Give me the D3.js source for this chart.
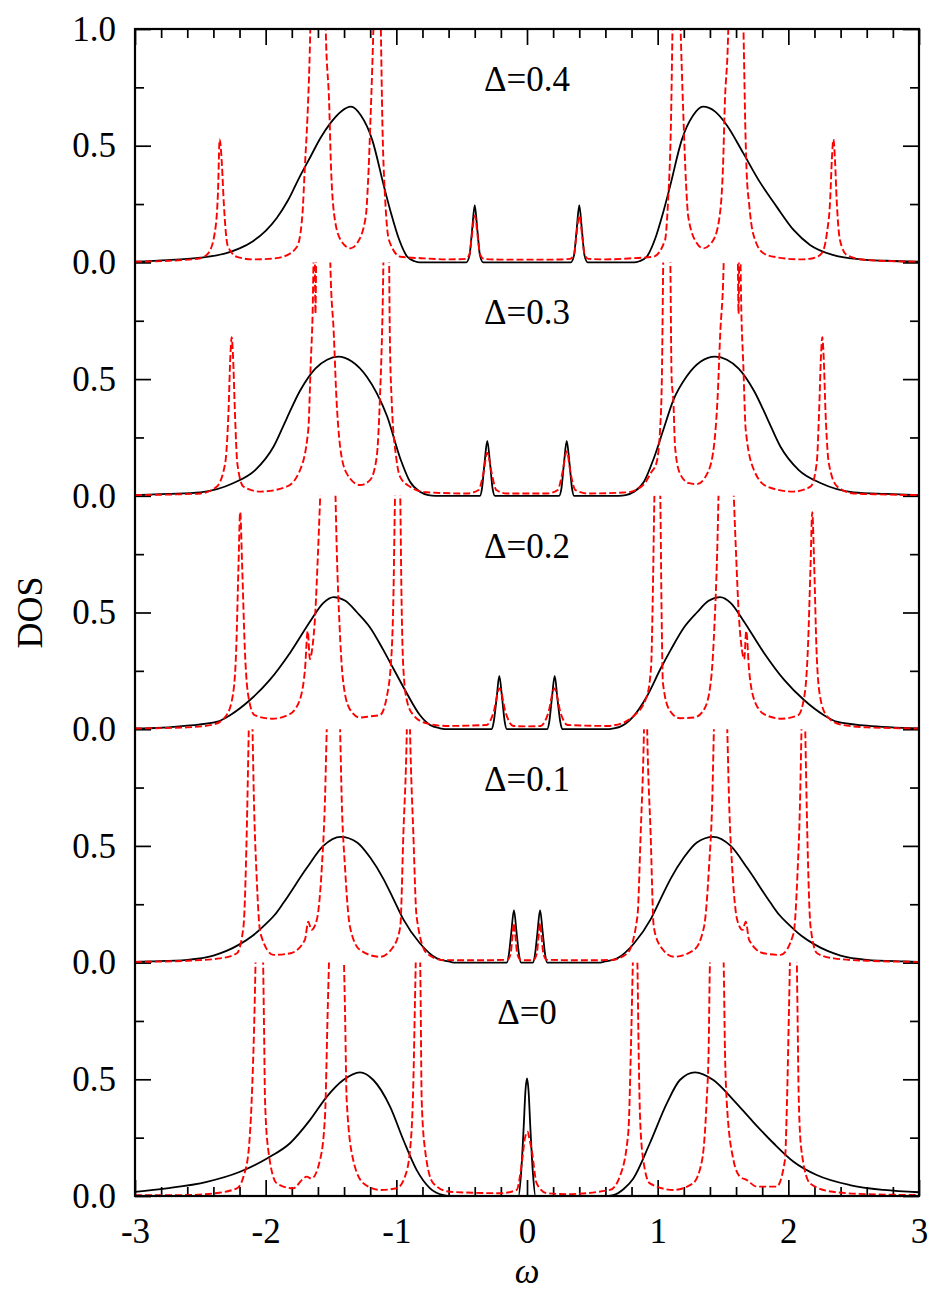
<!DOCTYPE html>
<html><head><meta charset="utf-8">
<script src="https://cdn.jsdelivr.net/npm/d3@7"></script>
<style>
body{margin:0;background:#fff}
svg{display:block}
svg text{font-family:"Liberation Serif",serif}
</style></head>
<body><svg id="c" width="937" height="1293" font-family="Liberation Serif"></svg>
<script>
// ---------------- data ----------------
const omegaTicks = [-3, -2, -1, 0, 1, 2, 3];
const deltaLabels = ["\u0394=0.4", "\u0394=0.3", "\u0394=0.2", "\u0394=0.1", "\u0394=0"];
const dosMajor = [0, 0.5];
const dosMinor = [0.25, 0.75];

// Δ=0.4
const blackD04 = [[-3.0,0.003],[-2.75,0.01],[-2.5,0.02],[-2.3,0.04],[-2.2,0.06],[-2.1,0.09],[-2.0,0.135],[-1.915,0.19],[-1.83,0.265],[-1.737,0.37],[-1.655,0.455],[-1.584,0.53],[-1.5,0.6],[-1.42,0.648],[-1.347,0.667],[-1.272,0.63],[-1.184,0.524],[-1.094,0.324],[-1.04,0.21],[-0.98,0.1],[-0.916,0.024],[-0.86,0.005],[-0.82,0],[-0.465,0],[-0.44,0.03],[-0.42,0.14],[-0.4,0.245],[-0.38,0.14],[-0.36,0.03],[-0.335,0],[0.335,0],[0.36,0.03],[0.38,0.14],[0.4,0.245],[0.42,0.14],[0.44,0.03],[0.465,0],[0.82,0],[0.86,0.005],[0.916,0.024],[0.98,0.1],[1.04,0.21],[1.094,0.324],[1.184,0.524],[1.272,0.63],[1.347,0.667],[1.44,0.646],[1.528,0.589],[1.655,0.468],[1.78,0.346],[1.91,0.239],[2.04,0.139],[2.166,0.075],[2.34,0.032],[2.55,0.013],[2.75,0.007],[3.0,0.003]];
const redD04 = [[-3.0,0.003],[-2.7,0.008],[-2.5,0.018],[-2.44,0.039],[-2.39,0.125],[-2.365,0.3],[-2.352,0.527],[-2.335,0.42],[-2.32,0.25],[-2.29,0.07],[-2.22,0.024],[-2.1,0.013],[-1.98,0.015],[-1.87,0.024],[-1.76,0.067],[-1.72,0.196],[-1.70,0.41],[-1.68,0.624],[-1.665,0.85],[-1.645,1.3],[-1.6,1.6],[-1.555,1.3],[-1.535,0.9],[-1.515,0.696],[-1.50,0.41],[-1.477,0.21],[-1.426,0.096],[-1.35,0.06],[-1.30,0.082],[-1.234,0.196],[-1.217,0.339],[-1.197,0.624],[-1.184,0.84],[-1.165,1.2],[-1.145,1.5],[-1.125,1.2],[-1.105,0.553],[-1.085,0.267],[-1.056,0.095],[-0.967,0.024],[-0.81,0.018],[-0.6,0.013],[-0.47,0.015],[-0.44,0.035],[-0.425,0.1],[-0.4,0.2],[-0.375,0.1],[-0.36,0.035],[-0.33,0.015],[-0.2,0.012],[0,0.012],[0.2,0.012],[0.33,0.015],[0.36,0.035],[0.375,0.1],[0.4,0.2],[0.425,0.1],[0.44,0.035],[0.47,0.015],[0.6,0.013],[0.81,0.018],[0.967,0.024],[1.056,0.095],[1.08,0.267],[1.10,0.553],[1.12,1.2],[1.145,1.5],[1.165,1.2],[1.184,0.84],[1.197,0.624],[1.217,0.339],[1.234,0.196],[1.30,0.082],[1.35,0.06],[1.426,0.096],[1.477,0.21],[1.50,0.41],[1.515,0.696],[1.535,0.9],[1.555,1.3],[1.6,1.6],[1.645,1.3],[1.66,0.9],[1.67,0.6],[1.68,0.4],[1.7,0.25],[1.73,0.125],[1.81,0.039],[1.91,0.022],[2.09,0.013],[2.19,0.018],[2.255,0.039],[2.295,0.125],[2.32,0.267],[2.333,0.44],[2.345,0.527],[2.357,0.44],[2.37,0.267],[2.395,0.096],[2.447,0.032],[2.6,0.01],[3.0,0.003]];

// Δ=0.3
const blackD03 = [[-3.0,0.003],[-2.75,0.008],[-2.5,0.015],[-2.25,0.054],[-2.08,0.11],[-1.94,0.21],[-1.84,0.33],[-1.737,0.45],[-1.62,0.545],[-1.53,0.583],[-1.444,0.596],[-1.34,0.575],[-1.226,0.51],[-1.15,0.44],[-1.07,0.34],[-0.97,0.16],[-0.895,0.06],[-0.82,0.017],[-0.755,0.003],[-0.7,0],[-0.36,0],[-0.345,0.03],[-0.325,0.14],[-0.304,0.235],[-0.283,0.14],[-0.263,0.03],[-0.245,0],[0.245,0],[0.263,0.03],[0.283,0.14],[0.304,0.235],[0.325,0.14],[0.345,0.03],[0.36,0],[0.7,0],[0.755,0.003],[0.82,0.017],[0.895,0.06],[0.97,0.16],[1.043,0.282],[1.12,0.41],[1.22,0.51],[1.33,0.575],[1.44,0.596],[1.53,0.583],[1.62,0.545],[1.737,0.45],[1.84,0.33],[1.94,0.21],[2.08,0.11],[2.25,0.054],[2.5,0.015],[2.75,0.008],[3.0,0.003]];
const redD03 = [[-3.0,0.003],[-2.7,0.006],[-2.5,0.01],[-2.375,0.039],[-2.31,0.139],[-2.285,0.353],[-2.27,0.6],[-2.26,0.68],[-2.25,0.6],[-2.235,0.353],[-2.217,0.139],[-2.17,0.039],[-2.04,0.018],[-1.84,0.039],[-1.737,0.11],[-1.674,0.282],[-1.655,0.568],[-1.64,0.8],[-1.632,1.05],[-1.626,1.1],[-1.619,0.78],[-1.612,1.1],[-1.6,1.4],[-1.56,1.6],[-1.515,1.2],[-1.5,0.9],[-1.48,0.71],[-1.459,0.425],[-1.43,0.21],[-1.38,0.096],[-1.278,0.046],[-1.2,0.068],[-1.15,0.168],[-1.125,0.425],[-1.105,0.8],[-1.09,1.3],[-1.075,1.5],[-1.06,1.3],[-1.05,0.7],[-1.035,0.4],[-1.0,0.16],[-0.97,0.08],[-0.895,0.039],[-0.77,0.015],[-0.46,0.01],[-0.37,0.025],[-0.334,0.096],[-0.304,0.185],[-0.27,0.096],[-0.235,0.025],[-0.155,0.01],[0,0.01],[0.155,0.01],[0.235,0.025],[0.27,0.096],[0.304,0.19],[0.334,0.096],[0.37,0.025],[0.46,0.01],[0.77,0.015],[0.895,0.05],[0.95,0.1],[0.99,0.139],[1.018,0.28],[1.032,0.5],[1.045,1.1],[1.07,1.5],[1.095,1.1],[1.107,0.5],[1.12,0.41],[1.133,0.21],[1.17,0.096],[1.24,0.054],[1.3,0.05],[1.38,0.096],[1.43,0.21],[1.459,0.425],[1.48,0.71],[1.5,0.9],[1.515,1.2],[1.56,1.6],[1.6,1.4],[1.612,1.1],[1.619,0.78],[1.626,1.1],[1.632,1.05],[1.64,0.8],[1.655,0.568],[1.674,0.282],[1.737,0.11],[1.84,0.039],[2.04,0.018],[2.17,0.039],[2.217,0.139],[2.235,0.353],[2.25,0.6],[2.26,0.68],[2.27,0.6],[2.285,0.353],[2.31,0.139],[2.375,0.039],[2.5,0.01],[2.7,0.006],[3.0,0.003]];

// Δ=0.2
const blackD02 = [[-3.0,0.003],[-2.885,0.004],[-2.6,0.015],[-2.37,0.032],[-2.27,0.061],[-2.12,0.125],[-1.97,0.21],[-1.81,0.33],[-1.65,0.47],[-1.56,0.54],[-1.48,0.566],[-1.39,0.55],[-1.3,0.5],[-1.2,0.435],[-1.1,0.34],[-1.023,0.26],[-0.92,0.154],[-0.82,0.061],[-0.742,0.018],[-0.666,0.004],[-0.6,0],[-0.27,0],[-0.255,0.03],[-0.233,0.13],[-0.212,0.228],[-0.19,0.13],[-0.17,0.03],[-0.155,0],[0.155,0],[0.17,0.03],[0.19,0.13],[0.212,0.228],[0.233,0.13],[0.255,0.03],[0.27,0],[0.6,0],[0.666,0.004],[0.71,0.01],[0.813,0.054],[0.916,0.139],[1.023,0.26],[1.1,0.34],[1.2,0.435],[1.3,0.5],[1.39,0.55],[1.477,0.566],[1.56,0.54],[1.65,0.47],[1.81,0.33],[1.97,0.21],[2.12,0.125],[2.27,0.061],[2.37,0.032],[2.6,0.015],[3.0,0.003]];
const redD02 = [[-3.0,0.003],[-2.6,0.008],[-2.4,0.02],[-2.3,0.06],[-2.25,0.15],[-2.225,0.35],[-2.208,0.7],[-2.195,0.93],[-2.18,0.7],[-2.16,0.35],[-2.135,0.15],[-2.085,0.06],[-1.95,0.045],[-1.83,0.06],[-1.75,0.11],[-1.70,0.25],[-1.678,0.42],[-1.662,0.3],[-1.645,0.34],[-1.62,0.5],[-1.6,0.75],[-1.575,1.1],[-1.52,1.6],[-1.47,1.1],[-1.455,0.75],[-1.435,0.45],[-1.41,0.22],[-1.36,0.09],[-1.28,0.05],[-1.2,0.055],[-1.125,0.061],[-1.073,0.139],[-1.035,0.34],[-1.023,0.55],[-1.01,1.0],[-0.99,1.4],[-0.97,1.0],[-0.96,0.55],[-0.947,0.268],[-0.92,0.125],[-0.87,0.061],[-0.768,0.025],[-0.616,0.014],[-0.31,0.018],[-0.258,0.068],[-0.21,0.175],[-0.162,0.068],[-0.105,0.014],[0,0.012],[0.105,0.014],[0.162,0.068],[0.21,0.175],[0.258,0.068],[0.31,0.018],[0.616,0.014],[0.66,0.016],[0.81,0.054],[0.916,0.139],[0.95,0.27],[0.962,0.55],[0.975,1.0],[0.995,1.4],[1.02,1.0],[1.03,0.5],[1.04,0.2],[1.09,0.082],[1.17,0.047],[1.28,0.05],[1.36,0.09],[1.41,0.22],[1.435,0.45],[1.455,0.75],[1.47,1.1],[1.52,1.6],[1.575,1.1],[1.6,0.75],[1.62,0.5],[1.645,0.34],[1.662,0.3],[1.678,0.42],[1.70,0.25],[1.75,0.11],[1.83,0.06],[1.95,0.045],[2.075,0.06],[2.125,0.15],[2.15,0.35],[2.17,0.7],[2.183,0.93],[2.198,0.7],[2.215,0.35],[2.24,0.15],[2.29,0.06],[2.4,0.02],[2.6,0.008],[3.0,0.003]];

// Δ=0.1
const blackD01 = [[-3.0,0.003],[-2.885,0.005],[-2.6,0.012],[-2.4,0.03],[-2.3,0.05],[-2.2,0.078],[-2.1,0.115],[-2.0,0.165],[-1.93,0.205],[-1.865,0.255],[-1.686,0.405],[-1.559,0.5],[-1.426,0.539],[-1.30,0.515],[-1.2,0.45],[-1.1,0.36],[-1.02,0.27],[-0.946,0.185],[-0.82,0.083],[-0.69,0.018],[-0.59,0.004],[-0.55,0],[-0.155,0],[-0.14,0.03],[-0.12,0.13],[-0.1,0.225],[-0.08,0.13],[-0.06,0.03],[-0.045,0],[0.045,0],[0.06,0.03],[0.08,0.13],[0.1,0.225],[0.12,0.13],[0.14,0.03],[0.155,0],[0.55,0],[0.59,0.004],[0.69,0.018],[0.82,0.083],[0.946,0.185],[1.02,0.27],[1.1,0.36],[1.2,0.45],[1.30,0.515],[1.426,0.539],[1.559,0.5],[1.686,0.405],[1.865,0.255],[1.93,0.205],[2.0,0.165],[2.1,0.115],[2.2,0.078],[2.3,0.05],[2.4,0.03],[2.6,0.012],[2.885,0.005],[3.0,0.003]];
const redD01 = [[-3.0,0.003],[-2.6,0.008],[-2.35,0.018],[-2.22,0.04],[-2.17,0.154],[-2.145,0.554],[-2.13,0.98],[-2.115,1.4],[-2.1,0.98],[-2.09,0.7],[-2.07,0.38],[-2.04,0.125],[-1.94,0.033],[-1.81,0.04],[-1.70,0.097],[-1.674,0.175],[-1.65,0.14],[-1.61,0.18],[-1.57,0.41],[-1.546,0.7],[-1.533,0.99],[-1.48,1.6],[-1.43,0.99],[-1.418,0.7],[-1.393,0.41],[-1.355,0.154],[-1.278,0.054],[-1.125,0.025],[-1.023,0.068],[-0.97,0.154],[-0.946,0.554],[-0.92,0.99],[-0.908,1.4],[-0.895,0.99],[-0.87,0.554],[-0.845,0.197],[-0.768,0.04],[-0.64,0.011],[-0.4,0.01],[-0.15,0.012],[-0.125,0.04],[-0.11,0.12],[-0.1,0.17],[-0.09,0.12],[-0.075,0.04],[-0.05,0.012],[0,0.01],[0.05,0.012],[0.075,0.04],[0.09,0.12],[0.1,0.17],[0.11,0.12],[0.125,0.04],[0.15,0.012],[0.4,0.01],[0.64,0.011],[0.768,0.04],[0.845,0.197],[0.87,0.554],[0.895,0.99],[0.908,1.4],[0.92,0.99],[0.946,0.554],[0.97,0.154],[1.023,0.068],[1.125,0.025],[1.278,0.054],[1.355,0.154],[1.393,0.41],[1.418,0.7],[1.43,0.99],[1.48,1.6],[1.533,0.99],[1.546,0.7],[1.57,0.41],[1.61,0.18],[1.65,0.14],[1.674,0.175],[1.70,0.097],[1.81,0.04],[1.94,0.033],[2.04,0.125],[2.07,0.38],[2.09,0.7],[2.1,0.98],[2.115,1.4],[2.13,0.98],[2.145,0.554],[2.17,0.154],[2.22,0.04],[2.35,0.018],[2.6,0.008],[3.0,0.003]];

// Δ=0
const blackD00 = [[-3.0,0.018],[-2.757,0.033],[-2.45,0.061],[-2.196,0.104],[-1.99,0.161],[-1.814,0.226],[-1.66,0.326],[-1.533,0.425],[-1.406,0.497],[-1.278,0.53],[-1.176,0.497],[-1.048,0.383],[-0.946,0.24],[-0.844,0.111],[-0.742,0.033],[-0.64,0.004],[-0.58,0],[-0.065,0],[-0.045,0.1],[-0.025,0.3],[-0.012,0.45],[0,0.504],[0.012,0.45],[0.025,0.3],[0.045,0.1],[0.065,0],[0.6,0],[0.66,0.004],[0.74,0.03],[0.814,0.075],[0.94,0.226],[1.07,0.397],[1.17,0.497],[1.286,0.53],[1.426,0.497],[1.58,0.411],[1.73,0.318],[1.887,0.226],[2.04,0.147],[2.217,0.09],[2.47,0.047],[2.73,0.026],[3.0,0.016]];
const redD00 = [[-3.0,0.003],[-2.6,0.004],[-2.4,0.011],[-2.22,0.033],[-2.17,0.083],[-2.13,0.197],[-2.107,0.411],[-2.085,0.8],[-2.07,1.2],[-2.045,1.5],[-2.025,1.2],[-2.012,0.7],[-2.005,0.411],[-1.98,0.197],[-1.915,0.054],[-1.79,0.033],[-1.72,0.07],[-1.686,0.083],[-1.65,0.075],[-1.584,0.154],[-1.546,0.34],[-1.525,0.8],[-1.505,1.2],[-1.46,1.6],[-1.41,1.2],[-1.393,0.8],[-1.38,0.411],[-1.33,0.154],[-1.25,0.054],[-1.125,0.026],[-0.997,0.033],[-0.934,0.083],[-0.895,0.197],[-0.87,0.48],[-0.855,0.9],[-0.835,1.4],[-0.815,0.9],[-0.806,0.411],[-0.78,0.197],[-0.717,0.054],[-0.59,0.018],[-0.206,0.012],[-0.079,0.026],[-0.04,0.14],[-0.015,0.25],[0.005,0.275],[0.02,0.24],[0.036,0.197],[0.074,0.054],[0.15,0.012],[0.3,0.008],[0.635,0.026],[0.71,0.083],[0.775,0.27],[0.795,0.625],[0.81,1.0],[0.828,1.4],[0.845,1.0],[0.855,0.6],[0.865,0.34],[0.89,0.154],[0.94,0.054],[1.12,0.026],[1.27,0.054],[1.34,0.154],[1.375,0.41],[1.39,0.625],[1.4,1.0],[1.455,1.6],[1.505,1.0],[1.515,0.625],[1.528,0.41],[1.58,0.154],[1.63,0.083],[1.68,0.069],[1.76,0.04],[1.91,0.04],[1.974,0.154],[1.99,0.41],[2.005,0.8],[2.02,1.2],[2.04,1.5],[2.06,1.2],[2.07,0.8],[2.08,0.41],[2.10,0.197],[2.166,0.054],[2.34,0.018],[2.6,0.008],[3.0,0.004]];

// ---------------- chart ----------------
const L = 135, R = 919, T = 29, B = 1196;
const panelSeries = [
  {label: deltaLabels[0], black: blackD04, red: redD04},
  {label: deltaLabels[1], black: blackD03, red: redD03},
  {label: deltaLabels[2], black: blackD02, red: redD02},
  {label: deltaLabels[3], black: blackD01, red: redD01},
  {label: deltaLabels[4], black: blackD00, red: redD00}
];
const ph = (B - T) / panelSeries.length;
const FS = 35;
const FONT = '"Liberation Serif", serif';

const svg = d3.select("#c");
const x = d3.scaleLinear().domain([-3, 3]).range([L, R]);
const minorOmega = d3.range(-30, 31, 2).map(v => v / 10).filter(v => !omegaTicks.includes(v));

function styleAxis(g, labels) {
  g.select(".domain").remove();
  g.selectAll(".tick line").attr("stroke", "#000").attr("stroke-width", 1.7);
  g.attr("font-family", FONT).attr("font-size", FS);
  g.selectAll(".tick text").attr("fill", "#000").attr("font-family", FONT).attr("font-size", FS);
  if (!labels) g.selectAll(".tick text").remove();
}

const axesG = svg.append("g");
axesG.append("g").attr("transform", `translate(0,${B})`)
  .call(d3.axisBottom(x).tickValues(omegaTicks).tickSize(-16).tickPadding(22).tickFormat(d => String(d)))
  .call(g => styleAxis(g, true));
axesG.append("g").attr("transform", `translate(0,${B})`)
  .call(d3.axisBottom(x).tickValues(minorOmega).tickSize(-9).tickFormat(""))
  .call(g => styleAxis(g, false));
axesG.append("g").attr("transform", `translate(0,${T})`)
  .call(d3.axisTop(x).tickValues(omegaTicks).tickSize(-16).tickFormat(""))
  .call(g => styleAxis(g, false));
axesG.append("g").attr("transform", `translate(0,${T})`)
  .call(d3.axisTop(x).tickValues(minorOmega).tickSize(-9).tickFormat(""))
  .call(g => styleAxis(g, false));

const defs = svg.append("defs");
const curvesG = svg.append("g");

panelSeries.forEach((p, i) => {
  const yb = T + ph * (i + 1);
  const y = d3.scaleLinear().domain([0, 1]).range([yb, yb - ph]);
  const major = i === 0 ? dosMajor.concat([1]) : dosMajor;

  axesG.append("g").attr("transform", `translate(${L},0)`)
    .call(d3.axisLeft(y).tickValues(major).tickSize(-16).tickPadding(19).tickFormat(d3.format(".1f")))
    .call(g => styleAxis(g, true));
  axesG.append("g").attr("transform", `translate(${L},0)`)
    .call(d3.axisLeft(y).tickValues(dosMinor).tickSize(-9).tickFormat(""))
    .call(g => styleAxis(g, false));
  axesG.append("g").attr("transform", `translate(${R},0)`)
    .call(d3.axisRight(y).tickValues(major).tickSize(-16).tickFormat(""))
    .call(g => styleAxis(g, false));
  axesG.append("g").attr("transform", `translate(${R},0)`)
    .call(d3.axisRight(y).tickValues(dosMinor).tickSize(-9).tickFormat(""))
    .call(g => styleAxis(g, false));

  const cid = "clip" + i;
  defs.append("clipPath").attr("id", cid).append("rect")
    .attr("x", L).attr("y", y(1)).attr("width", R - L).attr("height", ph + 2);

  const line = d3.line().x(d => x(d[0])).y(d => y(d[1])).curve(d3.curveMonotoneX);
  const pg = curvesG.append("g").attr("clip-path", `url(#${cid})`);
  pg.append("path").datum(p.black).attr("d", line)
    .attr("fill", "none").attr("stroke", "#000").attr("stroke-width", 1.8).attr("stroke-linejoin", "round");
  pg.append("path").datum(p.red).attr("d", line)
    .attr("fill", "none").attr("stroke", "#ff0000").attr("stroke-width", 1.9)
    .attr("stroke-dasharray", "7,3").attr("stroke-linejoin", "round");

  svg.append("text").attr("x", x(0)).attr("y", y(0.735)).attr("text-anchor", "middle")
    .attr("font-family", FONT).attr("font-size", FS).attr("fill", "#000").text(p.label);
});

svg.append("rect").attr("x", L).attr("y", T).attr("width", R - L).attr("height", B - T)
  .attr("fill", "none").attr("stroke", "#000").attr("stroke-width", 2.2);

svg.append("text").attr("transform", `translate(42,${(T + B) / 2})rotate(-90)`)
  .attr("text-anchor", "middle").attr("font-family", FONT).attr("font-size", 36).attr("fill", "#000").text("DOS");
svg.append("text").attr("x", x(0)).attr("y", 1283).attr("text-anchor", "middle")
  .attr("font-family", FONT).attr("font-size", 35).attr("font-style", "italic").attr("fill", "#000").text("\u03c9");
</script>
</body></html>
